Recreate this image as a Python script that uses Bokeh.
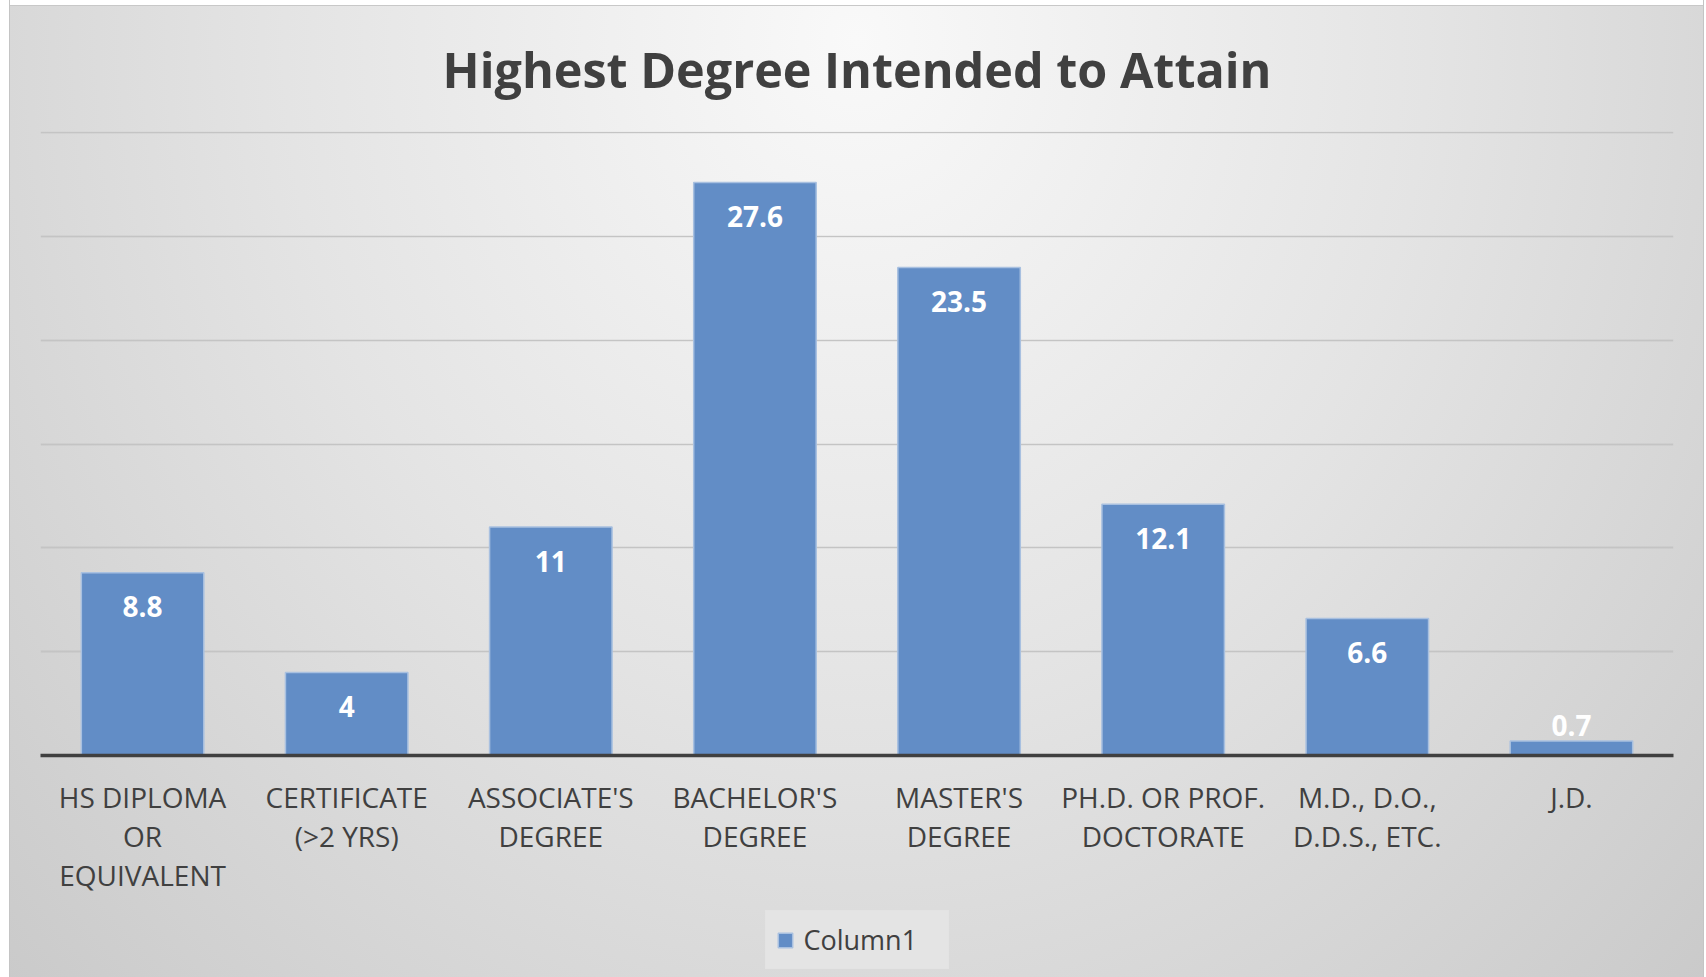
from bokeh.plotting import figure
from bokeh.layouts import column
from bokeh.models import ColumnDataSource, Grid, SingleIntervalTicker, Legend, LegendItem, Range1d, FactorRange
from bokeh.core.properties import value
from bokeh.embed import file_html
from bokeh.resources import INLINE

categories = ["HS DIPLOMA OR EQUIVALENT", "CERTIFICATE (>2 YRS)", "ASSOCIATE'S DEGREE",
              "BACHELOR'S DEGREE", "MASTER'S DEGREE", "PH.D. OR PROF. DOCTORATE",
              "M.D., D.O., D.D.S., ETC.", "J.D."]
tick_labels = ["HS DIPLOMA\nOR\nEQUIVALENT", "CERTIFICATE\n(>2 YRS)", "ASSOCIATE'S\nDEGREE",
               "BACHELOR'S\nDEGREE", "MASTER'S\nDEGREE", "PH.D. OR PROF.\nDOCTORATE",
               "M.D., D.O.,\nD.D.S., ETC.", "J.D."]
values = [8.8, 4, 11, 27.6, 23.5, 12.1, 6.6, 0.7]
series_name = "Column1"
title_text = "Highest Degree Intended to Attain"

FONT = "Open Sans"
TXT = "#404040"
BAR = "#628dc6"
EDGE = "#a8c0e0"
W = 1693

labels = [("%g" % v) for v in values]
offsets = [34 if v >= 2 else -15 for v in values]
src = ColumnDataSource(dict(cat=tick_labels, name=categories, val=values, lab=labels, off=offsets))

p = figure(width=W, height=907, x_range=FactorRange(*tick_labels), y_range=Range1d(0, 30.05),
           output_backend="svg", toolbar_location=None, y_axis_location=None,
           min_border_left=30, min_border_right=30, min_border_top=131, min_border_bottom=152)
p.border_fill_color = None
p.background_fill_color = None
p.outline_line_color = None

p.title.text = title_text
p.title.align = "center"
p.title.text_font = FONT
p.title.text_font_size = "48.5px"
p.title.text_font_style = "bold"
p.title.text_color = TXT
p.title.standoff = 60

p.xgrid.visible = False
p.add_layout(Grid(dimension=1, ticker=SingleIntervalTicker(interval=5),
                  grid_line_color="black", grid_line_alpha=0.14, grid_line_width=1.5))

r = p.vbar(x="cat", top="val", width=0.6, source=src, fill_color=BAR, line_color=EDGE,
           line_width=1.5)

p.text(x="cat", y="val", text="lab", y_offset="off", source=src, text_align="center",
       text_baseline="middle", text_color="white", text_font=value(FONT),
       text_font_size="28px", text_font_style="bold")

ax = p.xaxis[0]
ax.major_label_text_font = FONT
ax.major_label_text_font_size = "28px"
ax.major_label_text_color = TXT
ax.major_label_text_line_height = 1.03
ax.major_label_standoff = 22
ax.major_tick_line_color = None
ax.major_tick_out = 0
ax.major_tick_in = 0
ax.axis_line_color = TXT
ax.axis_line_width = 3.5

# legend strip below the chart
lf = figure(width=W, height=70, output_backend="svg", toolbar_location=None,
            x_range=Range1d(0, 1), y_range=Range1d(0, 1),
            x_axis_location=None, y_axis_location=None, min_border=0)
lf.border_fill_color = None
lf.background_fill_color = None
lf.outline_line_color = None
lf.xgrid.visible = False
lf.ygrid.visible = False
lr = lf.vbar(x=[-5], top=[-5], width=0.6, fill_color=BAR, line_color=EDGE, line_width=1.5)
legend = Legend(items=[LegendItem(label=series_name, renderers=[lr])], orientation="horizontal",
                location="top_center", background_fill_color="#e6e6e6", background_fill_alpha=0.8,
                border_line_color="#e3e3e3", border_line_alpha=0.6, border_line_width=1,
                label_text_font=FONT, label_text_font_size="27px",
                label_text_color=TXT, glyph_width=18, glyph_height=18, padding=10, margin=3,
                label_standoff=10, label_width=134, label_height=26)
lf.add_layout(legend)

layout = column(p, lf, spacing=0, styles={
    "margin-left": "10px", "margin-top": "0px",
    "box-shadow": "-1px 0 0 #c4c4c4, 1px 0 0 #c4c4c4",
    "background": ("linear-gradient(#c8c8c8, #c8c8c8) 0 5px / 100% 1px no-repeat, "
                   "linear-gradient(#ffffff, #ffffff) 0 0 / 100% 5px no-repeat, "
                   "radial-gradient(ellipse 75% 150% at 50% 4%, #f9f9f9 0%, #e4e4e4 45%, #c6c6c6 100%)")})

open("out.html", "w").write(file_html(layout, INLINE))
